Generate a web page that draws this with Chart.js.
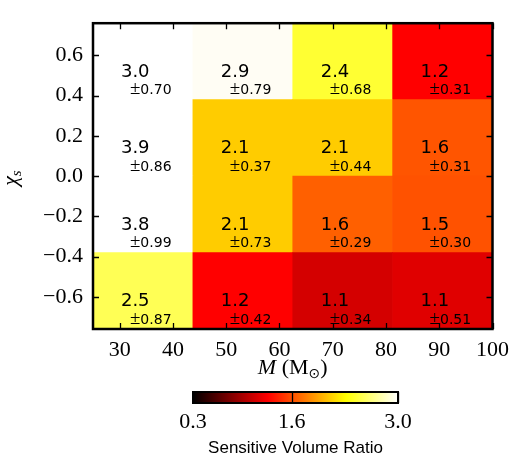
<!DOCTYPE html>
<html>
<head>
<meta charset="utf-8">
<script src="https://cdn.jsdelivr.net/npm/chart.js@4.4.1/dist/chart.umd.min.js"></script>
<style>
  html, body { margin: 0; padding: 0; background: #fff; }
  #wrap { width: 517px; height: 456px; }
</style>
</head>
<body>
<div id="wrap"><canvas id="myChart" width="517" height="456"></canvas></div>
<script>
// bin edges
var massEdges = [25, 43.75, 62.5, 81.25, 100];
var chiEdges = [-0.76, -0.38, 0, 0.38, 0.76];
var massBins = ['25-44', '44-62', '62-81', '81-100'];

// sensitive volume ratio, one row per chi bin (bottom -> top)
var ratioChi0 = [2.5, 1.2, 1.1, 1.1];
var ratioChi1 = [3.8, 2.1, 1.6, 1.5];
var ratioChi2 = [3.9, 2.1, 2.1, 1.6];
var ratioChi3 = [3.0, 2.9, 2.4, 1.2];
var errChi0 = [0.87, 0.42, 0.34, 0.51];
var errChi1 = [0.99, 0.73, 0.29, 0.30];
var errChi2 = [0.86, 0.37, 0.44, 0.31];
var errChi3 = [0.70, 0.79, 0.68, 0.31];

var xTicks = [30, 40, 50, 60, 70, 80, 90, 100];
var yTicks = [-0.6, -0.4, -0.2, 0.0, 0.2, 0.4, 0.6];
var cbTicks = [0.3, 1.6, 3.0];
var cbMin = 0.3, cbMax = 3.0;

var ratioRows = [ratioChi0, ratioChi1, ratioChi2, ratioChi3];
var errRows = [errChi0, errChi1, errChi2, errChi3];

// cell colours as seen in the figure ("hot" colour map)
var cellColors = [
  ['#ffff55', '#ff0000', '#d40000', '#e00000'],
  ['#ffffff', '#ffcc00', '#ff6000', '#ff5200'],
  ['#ffffff', '#ffcc00', '#ffcc00', '#ff5500'],
  ['#ffffff', '#fffdf4', '#ffff33', '#ff0000']
];

var serif = "'Liberation Serif', 'DejaVu Serif', serif";
var sans = "'DejaVu Sans', 'Liberation Sans', sans-serif";
var helv = "'Liberation Sans', Arial, sans-serif";

function fmt(v) {
  var s = Number(v).toFixed(1);
  return s.replace('-', '\u2212');
}

var datasets = ratioRows.map(function (row, r) {
  return {
    label: 'chi ' + chiEdges[r] + ' .. ' + chiEdges[r + 1],
    data: row.map(function () { return [chiEdges[r], chiEdges[r + 1]]; }),
    backgroundColor: cellColors[r],
    borderWidth: 0,
    xAxisID: 'xc',
    yAxisID: 'y',
    grouped: false,
    barPercentage: 1,
    categoryPercentage: 1
  };
});

// frame with inward ticks on all four sides
var framePlugin = {
  id: 'frame',
  afterDatasetsDraw: function (chart) {
    var ctx = chart.ctx, a = chart.chartArea;
    var xs = chart.scales.x, ys = chart.scales.y;
    ctx.save();
    ctx.strokeStyle = '#000';
    ctx.lineWidth = 1.3;
    ctx.beginPath();
    xTicks.forEach(function (v) {
      var px = Math.round(xs.getPixelForValue(v)) + 0.5;
      ctx.moveTo(px, a.bottom); ctx.lineTo(px, a.bottom - 6);
      ctx.moveTo(px, a.top); ctx.lineTo(px, a.top + 6);
    });
    yTicks.forEach(function (v) {
      var py = Math.round(ys.getPixelForValue(v)) + 0.5;
      ctx.moveTo(a.left, py); ctx.lineTo(a.left + 6, py);
      ctx.moveTo(a.right, py); ctx.lineTo(a.right - 6, py);
    });
    ctx.stroke();
    ctx.lineWidth = 2.5;
    ctx.strokeRect(a.left, a.top, a.right - a.left, a.bottom - a.top);
    ctx.restore();
  }
};

// value and error text in each cell
var cellTextPlugin = {
  id: 'cellText',
  afterDatasetsDraw: function (chart) {
    var ctx = chart.ctx;
    var xs = chart.scales.x, ys = chart.scales.y;
    ctx.save();
    ctx.fillStyle = '#000';
    ctx.textBaseline = 'alphabetic';
    ctx.textAlign = 'left';
    ratioRows.forEach(function (row, r) {
      var cy = ys.getPixelForValue((chiEdges[r] + chiEdges[r + 1]) / 2);
      row.forEach(function (val, c) {
        var cx = xs.getPixelForValue((massEdges[c] + massEdges[c + 1]) / 2);
        ctx.font = '18px ' + sans;
        ctx.fillText(val.toFixed(1), cx - 22, cy + 15.5);
        ctx.font = '19px ' + serif;
        ctx.fillText('\u00b1', cx - 13, cy + 33);
        var pw = ctx.measureText('\u00b1').width;
        ctx.font = '14px ' + sans;
        ctx.fillText(errRows[r][c].toFixed(2), cx - 13 + pw, cy + 33);
      });
    });
    ctx.restore();
  }
};

// axis titles and colour bar
var extrasPlugin = {
  id: 'extras',
  afterDraw: function (chart) {
    var ctx = chart.ctx, a = chart.chartArea;
    ctx.save();
    ctx.fillStyle = '#000';

    // x title: M (M_sun)
    var midX = (a.left + a.right) / 2;
    var base = 374;
    ctx.textBaseline = 'alphabetic';
    ctx.textAlign = 'left';
    ctx.font = 'italic 22px ' + serif;
    var w1 = ctx.measureText('M').width;
    ctx.font = '22px ' + serif;
    var w2 = ctx.measureText(' (M').width;
    var w4 = ctx.measureText(')').width;
    ctx.font = '14px ' + sans;
    var w3 = ctx.measureText('\u2299').width;
    var x0 = midX - (w1 + w2 + w3 + w4) / 2;
    ctx.font = 'italic 22px ' + serif;
    ctx.fillText('M', x0, base);
    ctx.font = '22px ' + serif;
    ctx.fillText(' (M', x0 + w1, base);
    ctx.font = '14px ' + sans;
    ctx.fillText('\u2299', x0 + w1 + w2, base + 4);
    ctx.font = '22px ' + serif;
    ctx.fillText(')', x0 + w1 + w2 + w3, base);

    // y title: chi_s
    ctx.save();
    ctx.translate(17, (a.top + a.bottom) / 2 + 2);
    ctx.rotate(-Math.PI / 2);
    ctx.font = 'italic 22px ' + serif;
    var wc = ctx.measureText('\u03c7').width;
    ctx.font = 'italic 15px ' + serif;
    var ws = ctx.measureText('s').width;
    ctx.font = 'italic 22px ' + serif;
    ctx.fillText('\u03c7', -(wc + ws) / 2, 0);
    ctx.font = 'italic 15px ' + serif;
    ctx.fillText('s', -(wc + ws) / 2 + wc, 4);
    ctx.restore();

    // colour bar
    var cbL = 193, cbR = 398, cbT = 392, cbB = 403;
    var g = ctx.createLinearGradient(cbL, 0, cbR, 0);
    g.addColorStop(0, '#000000');
    g.addColorStop(0.365, '#ff0000');
    g.addColorStop(0.746, '#ffff00');
    g.addColorStop(1, '#ffffff');
    ctx.fillStyle = g;
    ctx.fillRect(cbL, cbT, cbR - cbL, cbB - cbT);
    ctx.strokeStyle = '#000';
    ctx.lineWidth = 1.3;
    ctx.beginPath();
    cbTicks.forEach(function (v) {
      var px = Math.round(cbL + (v - cbMin) / (cbMax - cbMin) * (cbR - cbL)) + 0.5;
      ctx.moveTo(px, cbT); ctx.lineTo(px, cbB);
    });
    ctx.stroke();
    ctx.lineWidth = 2;
    ctx.strokeRect(cbL, cbT, cbR - cbL, cbB - cbT);

    ctx.fillStyle = '#000';
    ctx.font = '22px ' + serif;
    ctx.textAlign = 'center';
    ctx.textBaseline = 'alphabetic';
    cbTicks.forEach(function (v) {
      var px = cbL + (v - cbMin) / (cbMax - cbMin) * (cbR - cbL);
      ctx.fillText(v.toFixed(1), px, 428);
    });
    ctx.font = '17px ' + helv;
    ctx.fillText('Sensitive Volume Ratio', (cbL + cbR) / 2, 453);
    ctx.restore();
  }
};

var ctx = document.getElementById('myChart').getContext('2d');
var myChart = new Chart(ctx, {
  type: 'bar',
  data: {
    labels: massBins,
    datasets: datasets
  },
  options: {
    responsive: false,
    animation: false,
    layout: { padding: { left: 0, right: 19, top: 12, bottom: 0 } },
    plugins: {
      legend: { display: false },
      tooltip: { enabled: false }
    },
    scales: {
      xc: {
        type: 'category',
        labels: massBins,
        display: false,
        offset: true
      },
      x: {
        type: 'linear',
        position: 'bottom',
        min: 25,
        max: 100,
        offset: false,
        afterBuildTicks: function (s) { s.ticks = xTicks.map(function (v) { return { value: v }; }); },
        afterFit: function (s) { s.height = 127; },
        grid: { display: false, drawTicks: false },
        border: { display: false },
        ticks: {
          color: '#000',
          padding: 8,
          maxRotation: 0,
          font: { family: serif, size: 22 },
          callback: function (v) { return String(v); }
        }
      },
      y: {
        type: 'linear',
        min: -0.76,
        max: 0.76,
        afterBuildTicks: function (s) { s.ticks = yTicks.map(function (v) { return { value: v }; }); },
        afterFit: function (s) { s.width = 93; },
        grid: { display: false, drawTicks: false },
        border: { display: false },
        ticks: {
          color: '#000',
          padding: 10,
          font: { family: serif, size: 22 },
          callback: function (v) { return fmt(v); }
        }
      }
    }
  },
  plugins: [framePlugin, cellTextPlugin, extrasPlugin]
});
</script>
</body>
</html>
